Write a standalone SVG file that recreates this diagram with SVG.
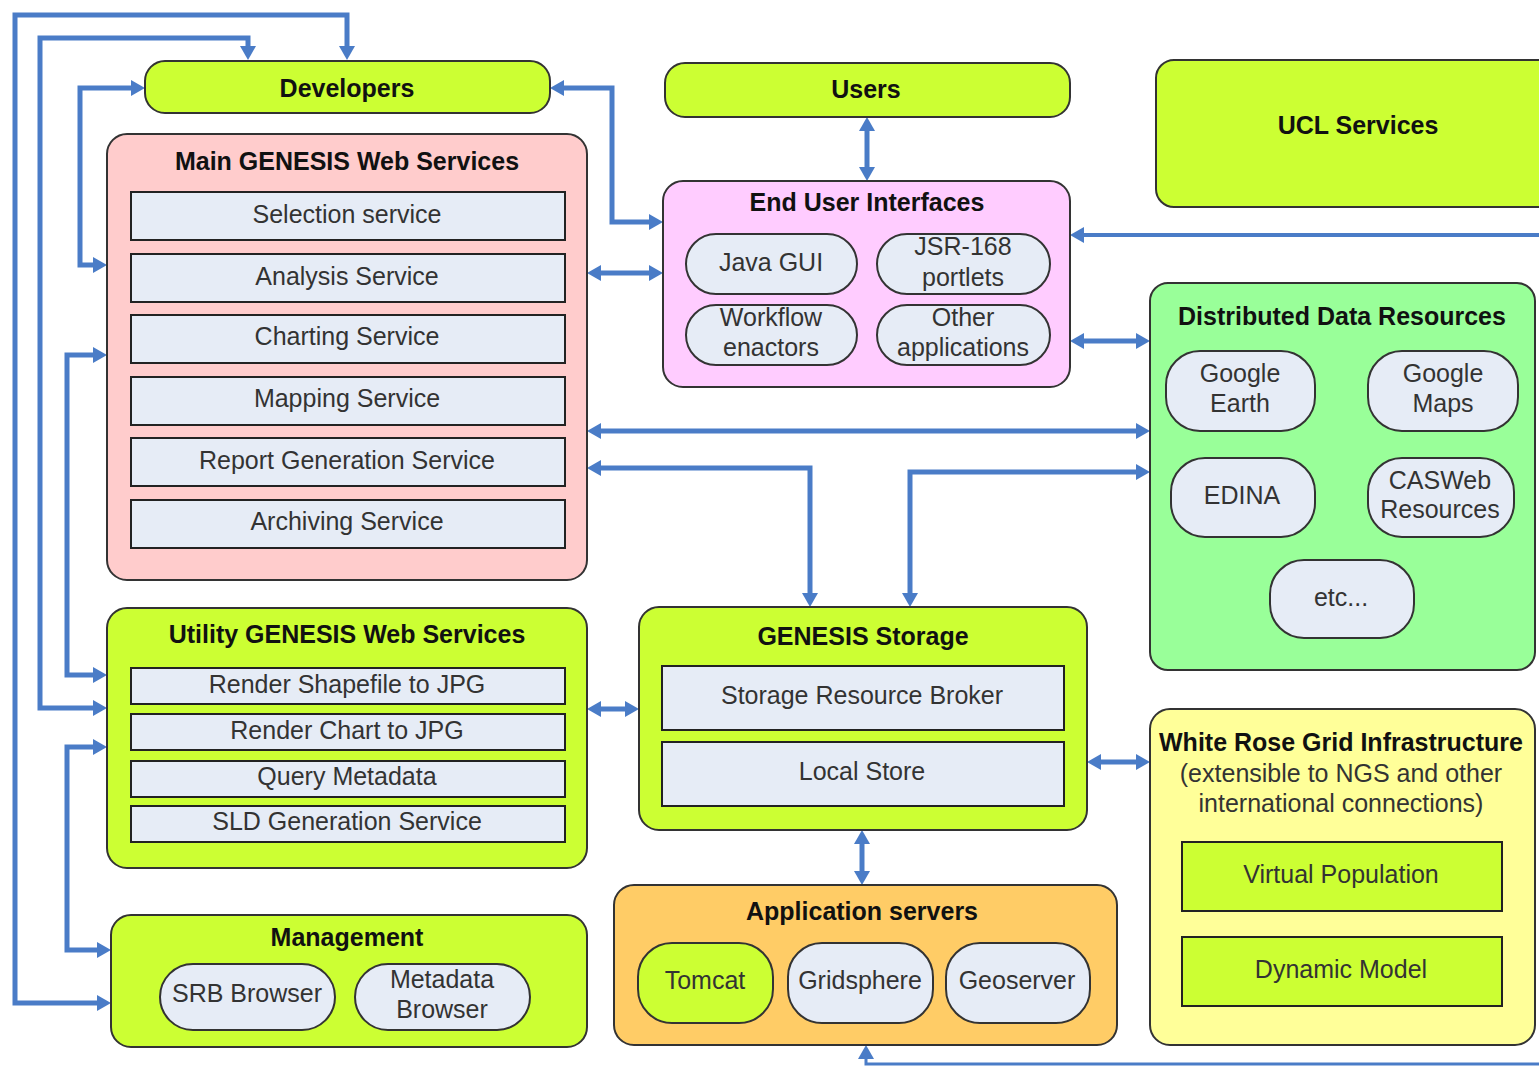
<svg xmlns="http://www.w3.org/2000/svg" width="1539" height="1067" viewBox="0 0 1539 1067">
<style>
text{font-family:"Liberation Sans",Arial,sans-serif;font-size:25px;text-anchor:middle;fill:#333}
.t{font-weight:bold;fill:#111}
.box{stroke:#333;stroke-width:2}
.sub{fill:#e6ecf6;stroke:#222;stroke-width:2}
.pill{fill:#e6ecf6;stroke:#333;stroke-width:2}
.lime{fill:#ccff33}
.c{fill:none;stroke:#4a7cc7;stroke-width:5;stroke-linejoin:miter}
</style>
<defs>
<marker id="ah" markerUnits="userSpaceOnUse" markerWidth="16" markerHeight="18" refX="5" refY="8" orient="auto-start-reverse">
<path d="M0,0 L14,8 L0,16 Z" fill="#4a7cc7"/>
</marker>
</defs>
<rect width="1539" height="1067" fill="#fff"/>

<g id="connectors">
<path class="c" d="M102,1003 L15,1003 L15,15 L347,15 L347,51" marker-start="url(#ah)" marker-end="url(#ah)"/>
<path class="c" d="M98,708 L40,708 L40,38 L248,38 L248,51" marker-start="url(#ah)" marker-end="url(#ah)"/>
<path class="c" d="M136,88 L80,88 L80,265 L98,265" marker-start="url(#ah)" marker-end="url(#ah)"/>
<path class="c" d="M98,355 L67,355 L67,675 L98,675" marker-start="url(#ah)" marker-end="url(#ah)"/>
<path class="c" d="M98,747 L67,747 L67,950 L102,950" marker-start="url(#ah)" marker-end="url(#ah)"/>
<path class="c" d="M559,88 L612,88 L612,222 L654,222" marker-start="url(#ah)" marker-end="url(#ah)"/>
<path class="c" d="M596,273 L654,273" marker-start="url(#ah)" marker-end="url(#ah)"/>
<path class="c" d="M867,126 L867,172" marker-start="url(#ah)" marker-end="url(#ah)"/>
<path class="c" style="stroke-width:4" d="M1545,235 L1079,235" marker-end="url(#ah)"/>
<path class="c" d="M1079,341 L1141,341" marker-start="url(#ah)" marker-end="url(#ah)"/>
<path class="c" d="M596,431 L1141,431" marker-start="url(#ah)" marker-end="url(#ah)"/>
<path class="c" d="M596,468 L810,468 L810,598" marker-start="url(#ah)" marker-end="url(#ah)"/>
<path class="c" d="M1141,472 L910,472 L910,598" marker-start="url(#ah)" marker-end="url(#ah)"/>
<path class="c" d="M596,709 L630,709" marker-start="url(#ah)" marker-end="url(#ah)"/>
<path class="c" d="M1096,762 L1141,762" marker-start="url(#ah)" marker-end="url(#ah)"/>
<path class="c" d="M862,839 L862,876" marker-start="url(#ah)" marker-end="url(#ah)"/>
<path class="c" style="stroke-width:3" d="M1545,1064 L866,1064 L866,1054" marker-end="url(#ah)"/>
</g>

<g id="developers">
<rect class="box lime" x="145" y="61" width="405" height="52" rx="20"/>
<text class="t" x="347" y="97">Developers</text>
</g>

<g id="users">
<rect class="box lime" x="665" y="63" width="405" height="54" rx="20"/>
<text class="t" x="866" y="98">Users</text>
</g>

<g id="ucl-services">
<rect class="box lime" x="1156" y="60" width="400" height="147" rx="18"/>
<text class="t" x="1358" y="134">UCL Services</text>
</g>

<g id="main-genesis">
<rect class="box" fill="#ffcccc" x="107" y="134" width="480" height="446" rx="20"/>
<text class="t" x="347" y="170">Main GENESIS Web Services</text>
<rect class="sub" x="131" y="192" width="434" height="48"/>
<text x="347" y="223">Selection service</text>
<rect class="sub" x="131" y="254" width="434" height="48"/>
<text x="347" y="285">Analysis Service</text>
<rect class="sub" x="131" y="315" width="434" height="48"/>
<text x="347" y="345">Charting Service</text>
<rect class="sub" x="131" y="377" width="434" height="48"/>
<text x="347" y="407">Mapping Service</text>
<rect class="sub" x="131" y="438" width="434" height="48"/>
<text x="347" y="469">Report Generation Service</text>
<rect class="sub" x="131" y="500" width="434" height="48"/>
<text x="347" y="530">Archiving Service</text>
</g>

<g id="end-user-interfaces">
<rect class="box" fill="#ffccff" x="663" y="181" width="407" height="206" rx="20"/>
<text class="t" x="867" y="211">End User Interfaces</text>
<rect class="pill" x="686" y="234" width="171" height="60" rx="30"/>
<text x="771" y="271">Java GUI</text>
<rect class="pill" x="877" y="234" width="173" height="60" rx="30"/>
<text x="963" y="255">JSR-168</text>
<text x="963" y="286">portlets</text>
<rect class="pill" x="686" y="305" width="171" height="60" rx="30"/>
<text x="771" y="326">Workflow</text>
<text x="771" y="356">enactors</text>
<rect class="pill" x="877" y="305" width="173" height="60" rx="30"/>
<text x="963" y="326">Other</text>
<text x="963" y="356">applications</text>
</g>

<g id="distributed-data">
<rect class="box" fill="#99ff99" x="1150" y="283" width="385" height="387" rx="18"/>
<text class="t" x="1342" y="325">Distributed Data Resources</text>
<rect class="pill" x="1166" y="351" width="149" height="80" rx="34"/>
<text x="1240" y="382">Google</text>
<text x="1240" y="412">Earth</text>
<rect class="pill" x="1368" y="351" width="150" height="80" rx="34"/>
<text x="1443" y="382">Google</text>
<text x="1443" y="412">Maps</text>
<rect class="pill" x="1171" y="458" width="144" height="79" rx="34"/>
<text x="1242" y="504">EDINA</text>
<rect class="pill" x="1368" y="458" width="146" height="79" rx="34"/>
<text x="1440" y="489">CASWeb</text>
<text x="1440" y="518">Resources</text>
<rect class="pill" x="1270" y="560" width="144" height="78" rx="34"/>
<text x="1341" y="606">etc...</text>
</g>

<g id="utility-genesis">
<rect class="box lime" x="107" y="608" width="480" height="260" rx="20"/>
<text class="t" x="347" y="643">Utility GENESIS Web Services</text>
<rect class="sub" x="131" y="668" width="434" height="36"/>
<text x="347" y="693">Render Shapefile to JPG</text>
<rect class="sub" x="131" y="714" width="434" height="36"/>
<text x="347" y="739">Render Chart to JPG</text>
<rect class="sub" x="131" y="761" width="434" height="36"/>
<text x="347" y="785">Query Metadata</text>
<rect class="sub" x="131" y="806" width="434" height="36"/>
<text x="347" y="830">SLD Generation Service</text>
</g>

<g id="genesis-storage">
<rect class="box lime" x="639" y="607" width="448" height="223" rx="20"/>
<text class="t" x="863" y="645">GENESIS Storage</text>
<rect class="sub" x="662" y="666" width="402" height="64"/>
<text x="862" y="704">Storage Resource Broker</text>
<rect class="sub" x="662" y="742" width="402" height="64"/>
<text x="862" y="780">Local Store</text>
</g>

<g id="white-rose">
<rect class="box" fill="#ffff99" x="1150" y="709" width="385" height="336" rx="20"/>
<text class="t" x="1341" y="751">White Rose Grid Infrastructure</text>
<text x="1341" y="782">(extensible to NGS and other</text>
<text x="1341" y="812">international connections)</text>
<rect class="sub lime" x="1182" y="842" width="320" height="69"/>
<text x="1341" y="883">Virtual Population</text>
<rect class="sub lime" x="1182" y="937" width="320" height="69"/>
<text x="1341" y="978">Dynamic Model</text>
</g>

<g id="management">
<rect class="box lime" x="111" y="915" width="476" height="132" rx="20"/>
<text class="t" x="347" y="946">Management</text>
<rect class="pill" x="160" y="964" width="175" height="66" rx="33"/>
<text x="247" y="1002">SRB Browser</text>
<rect class="pill" x="355" y="964" width="175" height="66" rx="33"/>
<text x="442" y="988">Metadata</text>
<text x="442" y="1018">Browser</text>
</g>

<g id="application-servers">
<rect class="box" fill="#ffcc66" x="614" y="885" width="503" height="160" rx="20"/>
<text class="t" x="862" y="920">Application servers</text>
<rect class="pill lime" x="638" y="943" width="135" height="80" rx="34"/>
<text x="705" y="989">Tomcat</text>
<rect class="pill" x="788" y="943" width="145" height="80" rx="34"/>
<text x="860" y="989">Gridsphere</text>
<rect class="pill" x="946" y="943" width="144" height="80" rx="34"/>
<text x="1017" y="989">Geoserver</text>
</g>
</svg>
